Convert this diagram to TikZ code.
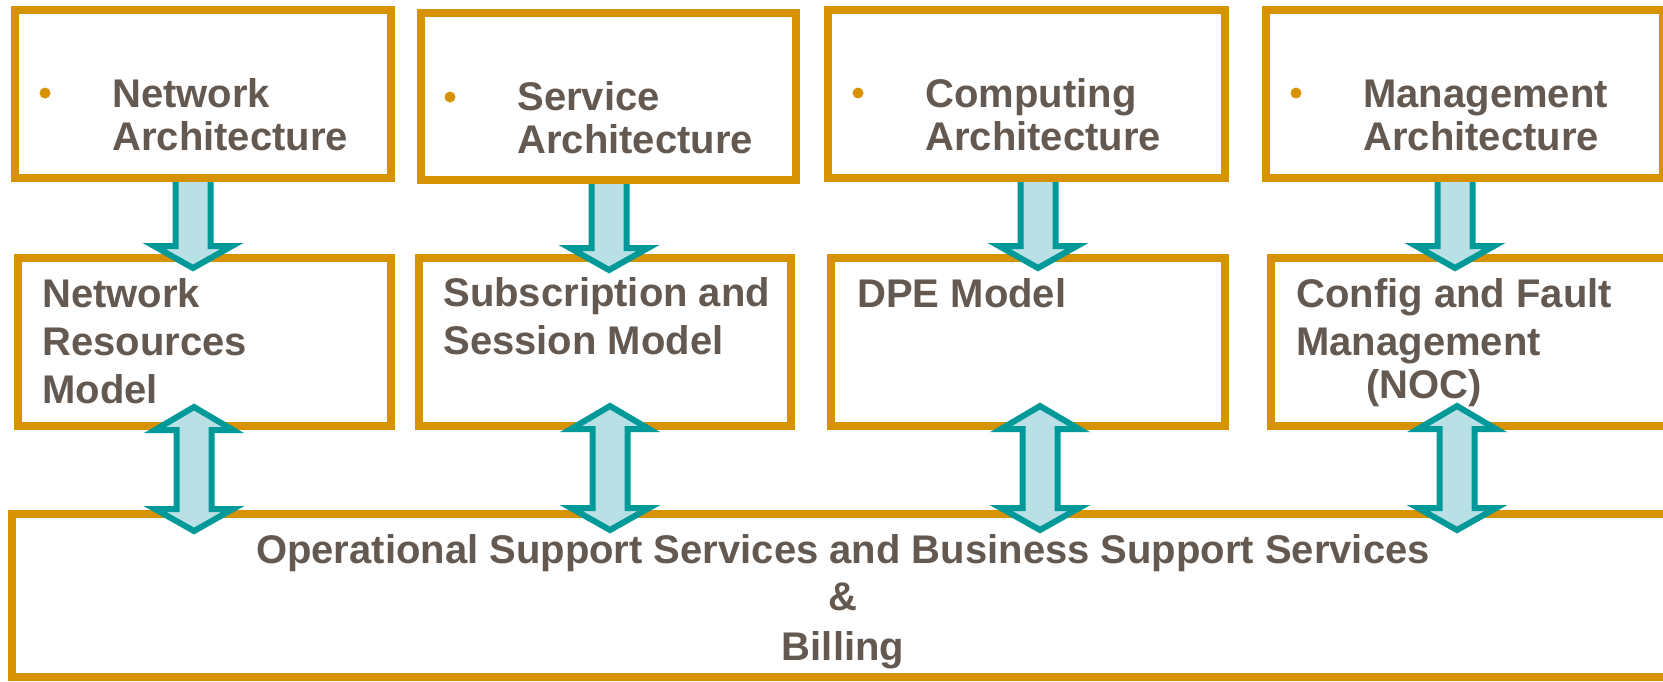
\documentclass[tikz,border=0pt]{standalone}
\usepackage{fontspec}
\setmainfont{Liberation Sans}
\usetikzlibrary{fit}
\definecolor{boxor}{RGB}{214,146,0}
\definecolor{tealedge}{RGB}{0,153,153}
\definecolor{tealfill}{RGB}{185,224,228}
\definecolor{txt}{RGB}{99,89,80}
\begin{document}
\begin{tikzpicture}[x=0.5pt,y=-0.5pt,
  box/.style={draw=boxor, line width=4pt, fill=white, inner sep=0pt},
  lbl/.style={anchor=base west, text=txt, font=\fontsize{20}{24}\selectfont\bfseries, inner sep=0pt},
  blk/.style={draw=tealedge, fill=tealfill, line width=3pt, line join=miter, miter limit=10},
  bul/.style={circle, fill=boxor, inner sep=0pt, minimum size=5.5pt},
  downarr/.pic={\path[blk] (-17.5,0) -- (-17.5,64) -- (-39,64) -- (0,86) -- (39,64) -- (17.5,64) -- (17.5,0);},
  dblarr/.pic={\path[blk] (0,0) -- (39,23) -- (17.5,23) -- (17.5,102) -- (39,102) -- (0,124) -- (-39,102) -- (-17.5,102) -- (-17.5,23) -- (-39,23) -- cycle;}
]
\useasboundingbox (0,0) rectangle (1663,681);
\clip (0,0) rectangle (1663,681);

% top row
\node[box, fit={(15,10) (391,178)}] (t1) {};
\node[box, fit={(421,13) (796,180)}] (t2) {};
\node[box, fit={(828,10) (1225,178)}] (t3) {};
\node[box, fit={(1266,10) (1663,178)}] (t4) {};

% middle row
\node[box, fit={(18,258) (391,426)}] (m1) {};
\node[box, fit={(419,258) (791,426)}] (m2) {};
\node[box, fit={(831,258) (1225,426)}] (m3) {};
\node[box, fit={(1271,258) (1680,426)}] (m4) {};

% bottom
\node[box, fit={(12,514) (1700,677)}] (bot) {};

% bullets
\node[bul] (b1) at (45,93) {};
\node[bul] (b2) at (450,97) {};
\node[bul] (b3) at (858,93) {};
\node[bul] (b4) at (1296,93) {};

% top texts
\node[lbl] (t1a) at (112,107) {Network};
\node[lbl] (t1b) at (112,150) {Architecture};
\node[lbl] (t2a) at (517,110) {Service};
\node[lbl] (t2b) at (517,153) {Architecture};
\node[lbl] (t3a) at (925,107) {Computing};
\node[lbl] (t3b) at (925,150) {Architecture};
\node[lbl] (t4a) at (1363,107) {Management};
\node[lbl] (t4b) at (1363,150) {Architecture};

% middle texts
\node[lbl] (m1a) at (42,307) {Network};
\node[lbl] (m1b) at (42,355) {Resources};
\node[lbl] (m1c) at (42,403) {Model};
\node[lbl] (m2a) at (443,306) {Subscription and};
\node[lbl] (m2b) at (443,354) {Session Model};
\node[lbl] (m3a) at (857,307) {DPE Model};
\node[lbl] (m4a) at (1296,307) {Config and Fault};
\node[lbl] (m4b) at (1296,355) {Management};
\node[lbl] (m4c) at (1366,398) {(NOC)};

% bottom texts
\node[lbl, anchor=base] (bt1) at (843,563) {Operational Support Services and Business Support Services};
\node[lbl, anchor=base] (bt2) at (843,610) {\&};
\node[lbl, anchor=base] (bt3) at (843,660) {Billing};

% arrows
\pic at (193,182) {downarr};
\pic at (609,184) {downarr};
\pic at (1038,182) {downarr};
\pic at (1455,182) {downarr};

\pic at (194,407) {dblarr};
\pic at (610,406) {dblarr};
\pic at (1040,406) {dblarr};
\pic at (1457,406) {dblarr};
\end{tikzpicture}
\end{document}
